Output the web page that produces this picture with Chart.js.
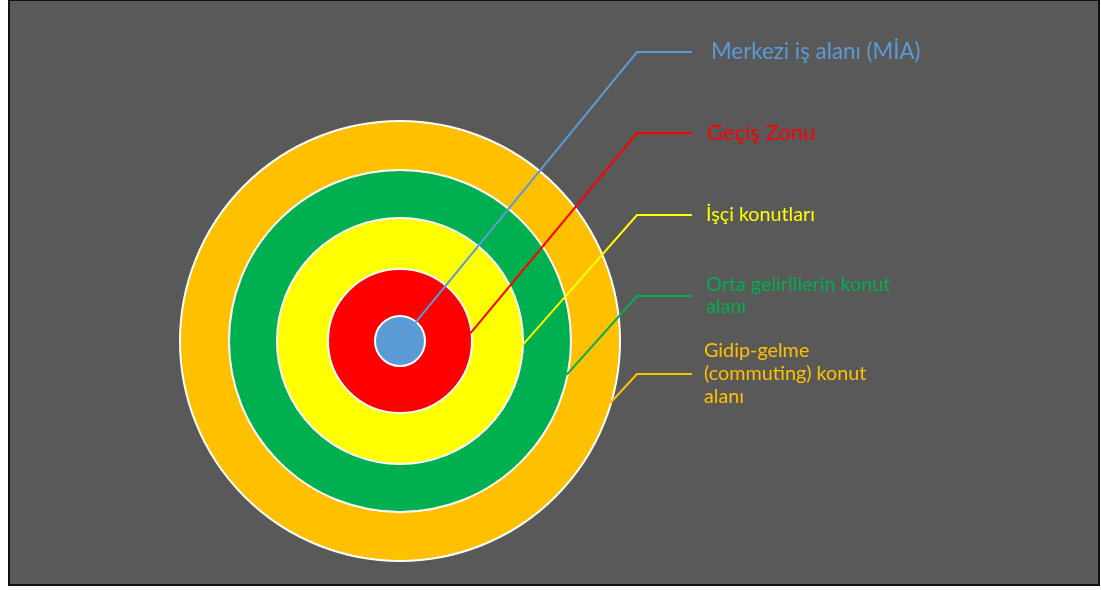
<!DOCTYPE html>
<html>
<head>
<meta charset="utf-8">
<script src="https://cdn.jsdelivr.net/npm/chart.js@4/dist/chart.umd.min.js"></script>
<style>
  html, body { margin: 0; padding: 0; background: #fff; }
  canvas { display: block; }
</style>
</head>
<body>
<canvas id="zones" width="1101" height="590"></canvas>
<script>
// zones from the centre outwards
var zoneNames = [
    ['Merkezi iş alanı (MİA)'],
    ['Geçiş Zonu'],
    ['İşçi konutları'],
    ['Orta gelirlilerin konut', 'alanı'],
    ['Gidip-gelme', '(commuting) konut', 'alanı']
];
var zoneWidths = [25, 47, 51, 48, 49];
var zoneColors = ['#5B9BD5', '#FF0000', '#FFFF00', '#00B050', '#FFC000'];

// leader line settings (angle on the ring in degrees, label row y)
var leaderAngles = [-50, -6.3, 2.3, 11.5, 16.5];
var leaderRows = [52, 133, 215, 296, 374];
var labelFonts = ['22.3px Lato', '22px Lato', '19.7px Lato', '19.8px Lato', '19.8px Lato'];
var labelX = [711, 707, 706, 706, 704];

// doughnut draws dataset 0 outermost, so reverse the order
var datasets = [];
for (var i = zoneNames.length - 1; i >= 0; i--) {
    datasets.push({
        label: zoneNames[i].join(' '),
        data: [1],
        weight: zoneWidths[i],
        backgroundColor: zoneColors[i],
        borderWidth: 0,
        hoverOffset: 0
    });
}

var background = {
    id: 'background',
    beforeDraw: function (chart) {
        var c = chart.ctx;
        c.save();
        c.fillStyle = '#ffffff';
        c.fillRect(0, 0, chart.width, chart.height);
        c.fillStyle = '#595959';
        c.fillRect(8, 0, 1092, 586);
        c.strokeStyle = '#111111';
        c.lineWidth = 2;
        c.strokeRect(9, 0, 1090, 585);
        c.restore();
    }
};

// white outline on each ring (full circles, no seam)
var ringEdges = {
    id: 'ringEdges',
    afterDatasetsDraw: function (chart) {
        var c = chart.ctx;
        c.save();
        c.strokeStyle = '#ffffff';
        c.lineWidth = 2;
        chart.data.datasets.forEach(function (ds, i) {
            var arc = chart.getDatasetMeta(i).data[0];
            c.beginPath();
            c.arc(arc.x, arc.y, arc.outerRadius, 0, Math.PI * 2);
            c.stroke();
        });
        c.restore();
    }
};

var leaders = {
    id: 'leaders',
    afterDraw: function (chart) {
        var c = chart.ctx;
        c.save();
        for (var z = 0; z < zoneNames.length; z++) {
            var arc = chart.getDatasetMeta(zoneNames.length - 1 - z).data[0];
            var a = leaderAngles[z] * Math.PI / 180;
            var r = arc.outerRadius - 1;
            var sx = arc.x + r * Math.cos(a);
            var sy = arc.y + r * Math.sin(a);
            var row = leaderRows[z];
            c.strokeStyle = zoneColors[z];
            c.lineWidth = 2;
            c.beginPath();
            c.moveTo(sx, sy);
            c.lineTo(637, row);
            c.lineTo(692, row);
            c.stroke();

            var lines = zoneNames[z];
            var lh = lines.length === 3 ? 23 : 22;
            var top = row - lh * (lines.length - 1) / 2;
            c.fillStyle = zoneColors[z];
            c.font = labelFonts[z];
            c.textBaseline = 'middle';
            c.textAlign = 'left';
            for (var k = 0; k < lines.length; k++) {
                c.fillText(lines[k], labelX[z], top + k * lh);
            }
        }
        c.restore();
    }
};

var chart = new Chart(document.getElementById('zones'), {
    type: 'doughnut',
    data: {
        labels: ['zone'],
        datasets: datasets
    },
    options: {
        responsive: false,
        animation: false,
        events: [],
        cutout: 0,
        radius: 220,
        layout: {
            padding: { left: 0, right: 301, top: 100, bottom: 8 }
        },
        plugins: {
            legend: { display: false },
            tooltip: { enabled: false }
        }
    },
    plugins: [background, ringEdges, leaders]
});
</script>
</body>
</html>
